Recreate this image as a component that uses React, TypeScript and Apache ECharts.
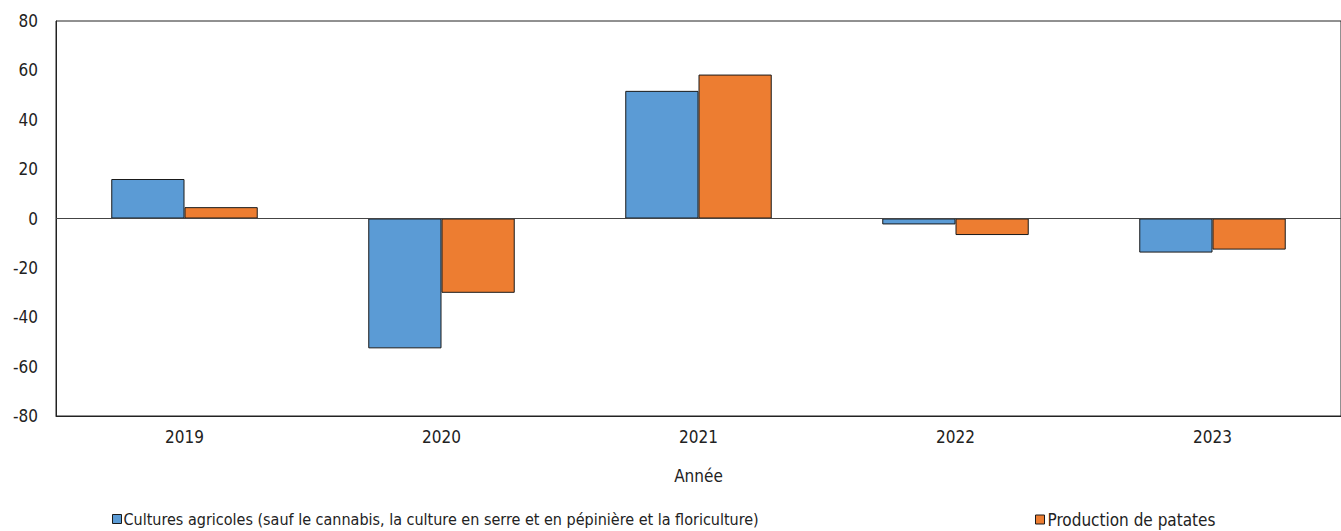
import React, { useEffect, useRef } from "react";
import * as echarts from "echarts";

const years = ["2019", "2020", "2021", "2022", "2023"];
const cultures = [16.0, -52.6, 51.7, -2.4, -13.8];
const patates = [4.6, -30.1, 58.3, -6.7, -12.6];
const nameCultures = "Cultures agricoles (sauf le cannabis, la culture en serre et en pépinière et la floriculture)";
const namePatates = "Production de patates";
const axisName = "Année";

const FONT = '"Liberation Sans Narrow", "DejaVu Sans Condensed", "Roboto Condensed", sans-serif';

export default function App() {
  const ref = useRef<HTMLDivElement>(null);
  useEffect(() => {
    document.body.style.margin = "0";
    const chart = echarts.init(ref.current!, null, { renderer: "svg" });
    chart.setOption({
      animation: false,
      textStyle: { fontFamily: FONT },
      grid: {
        left: 56,
        right: -1,
        top: 21,
        bottom: 115,
        show: true,
        borderColor: "#222",
        borderWidth: 1,
      },
      legend: [
        {
          data: [nameCultures],
          left: 107,
          top: 506,
          icon: "rect",
          itemWidth: 9,
          itemHeight: 9,
          itemStyle: { borderColor: "#1a1a1a", borderWidth: 1 },
          textStyle: { fontFamily: FONT, fontSize: 16, color: "#222", padding: [0, 0, 0, -3] },
        },
        {
          data: [namePatates],
          left: 1030,
          top: 506,
          icon: "rect",
          itemWidth: 9,
          itemHeight: 9,
          itemStyle: { borderColor: "#1a1a1a", borderWidth: 1 },
          textStyle: { fontFamily: FONT, fontSize: 17, color: "#222", padding: [0, 0, 0, -2] },
        },
      ],
      xAxis: {
        type: "category",
        data: years,
        axisLine: { onZero: false, lineStyle: { color: "#222" } },
        axisTick: { show: false },
        axisLabel: { fontFamily: FONT, fontSize: 17, color: "#222", margin: 12 },
        name: axisName,
        nameLocation: "middle",
        nameGap: 51,
        nameTextStyle: { fontFamily: FONT, fontSize: 17, color: "#222" },
      },
      yAxis: {
        type: "value",
        min: -80,
        max: 80,
        interval: 20,
        axisLine: { show: true, lineStyle: { color: "#222" } },
        axisTick: { show: false },
        splitLine: { show: false },
        axisLabel: { fontFamily: FONT, fontSize: 17, color: "#222", margin: 18 },
      },
      series: [
        {
          name: nameCultures,
          type: "bar",
          data: cultures,
          barGap: "0%",
          barCategoryGap: "43%",
          itemStyle: { color: "#5B9BD5", borderColor: "#1a1a1a", borderWidth: 1 },
          markLine: {
            silent: true,
            symbol: "none",
            label: { show: false },
            lineStyle: { color: "#444", type: "solid", width: 1 },
            data: [{ yAxis: 0 }],
          },
        },
        {
          name: namePatates,
          type: "bar",
          data: patates,
          itemStyle: { color: "#ED7D31", borderColor: "#1a1a1a", borderWidth: 1 },
        },
      ],
    });
    return () => chart.dispose();
  }, []);
  return <div ref={ref} style={{ width: 1341, height: 531 }} />;
}
